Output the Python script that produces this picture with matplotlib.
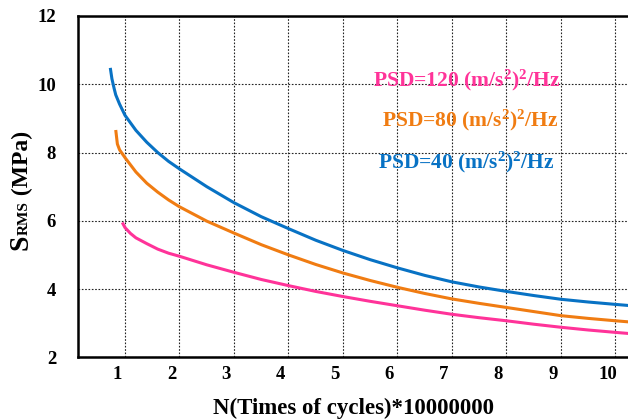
import matplotlib
matplotlib.use('Agg')
import matplotlib.pyplot as plt
import matplotlib.transforms as mtransforms

# Schrift wie im Original (Times fett)
plt.rcParams['font.family'] = ['Liberation Serif', 'DejaVu Serif']
plt.rcParams['font.weight'] = 'bold'
plt.rcParams['axes.labelweight'] = 'bold'
plt.rcParams['mathtext.fontset'] = 'custom'
plt.rcParams['mathtext.rm'] = 'Liberation Serif:bold'
plt.rcParams['mathtext.bf'] = 'Liberation Serif:bold'
plt.rcParams['mathtext.default'] = 'rm'

x_40 = [0.73, 0.76, 0.80, 0.83, 0.9, 1.0, 1.2, 1.4, 1.6, 1.8, 2.0, 2.5, 3.0, 3.5, 4.0, 4.5,
        5.0, 5.5, 6.0, 6.5, 7.0, 7.5, 8.0, 8.5, 9.0, 9.5, 10.0, 10.3]
y_40 = [10.48, 10.16, 9.88, 9.69, 9.42, 9.09, 8.65, 8.30, 8.00, 7.74, 7.52, 7.00, 6.53, 6.12, 5.77, 5.43,
        5.13, 4.86, 4.62, 4.40, 4.21, 4.06, 3.93, 3.81, 3.70, 3.62, 3.55, 3.51]

x_80 = [0.83, 0.86, 0.9, 1.0, 1.2, 1.4, 1.6, 1.8, 2.0, 2.5, 3.0, 3.5, 4.0, 4.5,
        5.0, 5.5, 6.0, 6.5, 7.0, 7.5, 8.0, 8.5, 9.0, 9.5, 10.0, 10.3]
y_80 = [8.66, 8.25, 8.08, 7.85, 7.43, 7.10, 6.84, 6.61, 6.41, 5.99, 5.64, 5.30, 5.00, 4.72,
        4.47, 4.25, 4.05, 3.87, 3.71, 3.58, 3.46, 3.34, 3.22, 3.14, 3.07, 3.03]

x_120 = [0.95, 1.0, 1.1, 1.2, 1.4, 1.6, 1.8, 2.0, 2.5, 3.0, 3.5, 4.0, 4.5,
         5.0, 5.5, 6.0, 6.5, 7.0, 7.5, 8.0, 8.5, 9.0, 9.5, 10.0, 10.3]
y_120 = [5.95, 5.80, 5.63, 5.50, 5.33, 5.17, 5.05, 4.96, 4.71, 4.49, 4.28, 4.10, 3.93,
         3.78, 3.64, 3.51, 3.38, 3.26, 3.16, 3.07, 2.97, 2.88, 2.80, 2.73, 2.69]

x_ticks = [1, 2, 3, 4, 5, 6, 7, 8, 9, 10]
y_ticks = [2, 4, 6, 8, 10, 12]

labels = ['PSD=120 (m/s$^2$)$^2$/Hz', 'PSD=80 (m/s$^2$)$^2$/Hz', 'PSD=40 (m/s$^2$)$^2$/Hz']
colors = ['#FF3399', '#F07C12', '#0872C4']

W, H = 628, 420
fig = plt.figure(figsize=(W / 100, H / 100), dpi=100)
ax = fig.add_axes([78.3 / W, 62.7 / H, 1 - 78.3 / W, (357.3 - 16) / H])

ax.plot(x_40, y_40, color=colors[2], lw=2.2, solid_capstyle='butt', solid_joinstyle='round')
ax.plot(x_80, y_80, color=colors[1], lw=2.2, solid_capstyle='butt', solid_joinstyle='round')
ax.plot(x_120, y_120, color=colors[0], lw=2.2, solid_capstyle='butt', solid_joinstyle='round')

ax.set_xlim(0.143, 10.23)
ax.set_ylim(2, 12)
ax.set_xticks(x_ticks)
ax.set_yticks(y_ticks)
ax.tick_params(length=0, labelsize=13.5)
ax.tick_params(axis='y', pad=16)
ax.tick_params(axis='x', pad=6)
# x-Beschriftungen etwas nach links verschieben wie im Original
for lab in ax.get_xticklabels():
    lab.set_transform(lab.get_transform() + mtransforms.ScaledTranslation(-8 / 100, 0, fig.dpi_scale_trans))

ax.grid(True, color='#222222', ls=(0, (1.5, 1.5)), lw=0.8)
for s in ['left', 'bottom', 'top']:
    ax.spines[s].set_linewidth(1.8)
ax.spines['right'].set_visible(False)

ax.set_xlabel('N(Times of cycles)*10000000', fontsize=16.5, fontweight='bold', labelpad=11)

# Legendentexte
fig.text(373 / W, 1 - 86 / H, labels[0], color=colors[0], fontsize=15.5, va='baseline')
fig.text(382 / W, 1 - 126 / H, labels[1], color=colors[1], fontsize=15.5, va='baseline')
fig.text(378 / W, 1 - 168 / H, labels[2], color=colors[2], fontsize=15.5, va='baseline')

# y-Beschriftung aus Teilen: S + RMS (klein) + (MPa)
fig.canvas.draw()
r = fig.canvas.get_renderer()
bx = 28 / W
yy = 1 - 250 / H
for txt, fs in [('S', 20), ('RMS', 11), (' (MPa)', 17)]:
    t = fig.text(bx, yy, txt, fontsize=fs, rotation=90, rotation_mode='anchor',
                 ha='left', va='baseline')
    ext = t.get_window_extent(r)
    yy += ext.height / H

fig.savefig('out.png', dpi=100)
